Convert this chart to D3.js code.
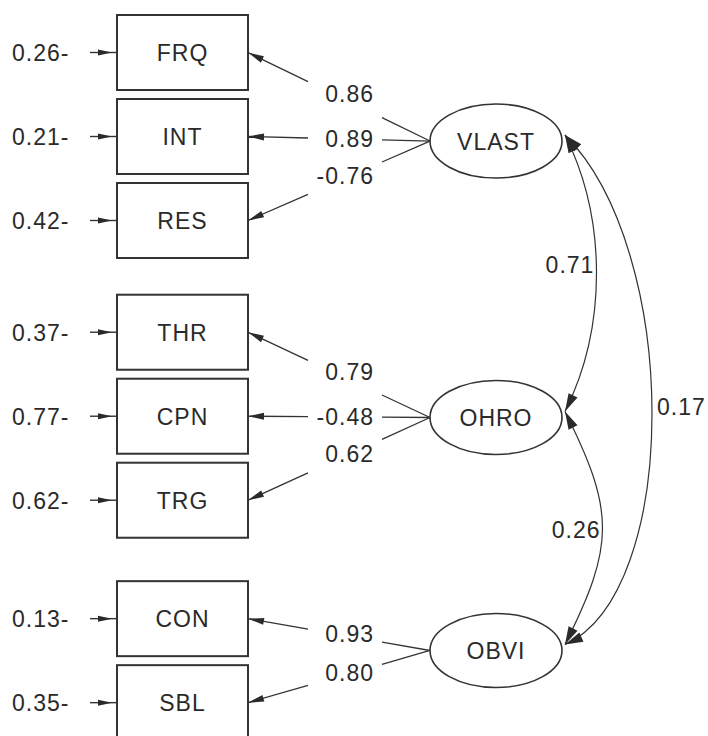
<!DOCTYPE html>
<html><head><meta charset="utf-8">
<script src="https://cdn.jsdelivr.net/npm/d3@7"></script>
<style>body{margin:0;background:#fff} svg{display:block}</style>
</head><body>
<svg id="chart" width="708" height="736"></svg>
<script>
// ---- data ----
const observed   = ["FRQ","INT","RES","THR","CPN","TRG","CON","SBL"];
const residuals  = [0.26,0.21,0.42,0.37,0.77,0.62,0.13,0.35];
const indicatorOf= ["VLAST","VLAST","VLAST","OHRO","OHRO","OHRO","OBVI","OBVI"];
const loadings   = [0.86,0.89,-0.76,0.79,-0.48,0.62,0.93,0.80];
const latents    = ["VLAST","OHRO","OBVI"];
const covFrom    = ["VLAST","OHRO","VLAST"];
const covTo      = ["OHRO","OBVI","OBVI"];
const covValues  = [0.71,0.26,0.17];

// ---- layout ----
const groupGap   = [0,0.33,0.74];
const latentSlot = [1.054,4.345,7.119];
const covBulge   = [84,100,116];
const covEndSlope= [[0.5,0.5],[0.5,0.5],[1.0,0.45]];
const covLabelT  = [0.47,0.51,0.49];
const covLabelSide = ["left","left","right"];

const svg = d3.select("#chart");
const fmt = d3.formatLocale({decimal:".",thousands:",",grouping:[3],currency:["",""],minus:"-"}).format(".2f");
const y = d3.scaleLinear().domain([0,1]).range([52.5,136.5]);
const x = d3.scaleLinear().domain([0,1]).range([0,708]);

const boxX0 = x(117/708), boxW = 131, boxH = 75;
const boxX1 = boxX0 + boxW;
const latCx = 496, latRx = 66, latRy = 37;
const ink = "#2a2a2a", lineC = "#333";
const font = "'Liberation Sans', Arial, Helvetica, sans-serif";

const groupIdx = indicatorOf.map(f => latents.indexOf(f));
const rowY = observed.map((d,i) => y(i + groupGap[groupIdx[i]]));
const latY = latents.map((d,i) => y(latentSlot[i]));

function arrowHead(tip, dx, dy, len, wid){
  const L = Math.hypot(dx,dy); const ux = dx/L, uy = dy/L;
  const bx = tip[0]-ux*len, by = tip[1]-uy*len;
  const px = -uy*wid/2, py = ux*wid/2;
  return `M${tip[0]},${tip[1]}L${bx+px},${by+py}L${bx-px},${by-py}Z`;
}
function txt(sel){ return sel.attr("font-family",font).attr("font-size",23).attr("letter-spacing","1px").attr("fill",ink); }

// ---- boxes ----
const g = svg.append("g");
observed.forEach((name,i)=>{
  const cy = rowY[i];
  g.append("rect").attr("x",boxX0).attr("y",cy-boxH/2).attr("width",boxW).attr("height",boxH)
    .attr("fill","#fff").attr("stroke",lineC).attr("stroke-width",2);
  txt(g.append("text")).attr("x",boxX0+boxW/2).attr("y",cy+8.5).attr("text-anchor","middle").text(name);
  // residual
  txt(g.append("text")).attr("x",12).attr("y",cy+8.5).text(fmt(residuals[i])+"-");
  g.append("line").attr("x1",90).attr("x2",boxX0).attr("y1",cy).attr("y2",cy).attr("stroke",lineC).attr("stroke-width",1.4);
  g.append("path").attr("d",arrowHead([112,cy],1,0,14,6)).attr("fill",ink);
});

// ---- latents ----
latents.forEach((name,i)=>{
  g.append("ellipse").attr("cx",latCx).attr("cy",latY[i]).attr("rx",latRx).attr("ry",latRy)
    .attr("fill","#fff").attr("stroke",lineC).attr("stroke-width",1.6);
  txt(g.append("text")).attr("x",latCx).attr("y",latY[i]+8.5).attr("text-anchor","middle").text(name);
});

// ---- loadings ----
const gapR = 382, gapL = 308, labelRight = 374;
observed.forEach((name,i)=>{
  const E = [latCx-latRx, latY[groupIdx[i]]];
  const B = [boxX1, rowY[i]];
  const yAt = xx => E[1] + (B[1]-E[1])*(E[0]-xx)/(E[0]-B[0]);
  g.append("line").attr("x1",E[0]).attr("y1",E[1]).attr("x2",gapR).attr("y2",yAt(gapR)).attr("stroke",lineC).attr("stroke-width",1.3);
  g.append("line").attr("x1",gapL).attr("y1",yAt(gapL)).attr("x2",B[0]).attr("y2",B[1]).attr("stroke",lineC).attr("stroke-width",1.3);
  g.append("path").attr("d",arrowHead(B,B[0]-gapL,B[1]-yAt(gapL),16,7)).attr("fill",ink);
  const up = (E[1]-B[1]) > 20;
  const ly = yAt(up ? 333 : 350);
  txt(g.append("text")).attr("x",labelRight).attr("y",ly+8).attr("text-anchor","end").text(fmt(loadings[i]));
});

// ---- covariances ----
covValues.forEach((v,k)=>{
  const a = latents.indexOf(covFrom[k]), b = latents.indexOf(covTo[k]);
  const P0 = [latCx+latRx+3, latY[a]-6];
  const P3 = [latCx+latRx+3, latY[b]-6];
  const bulge = covBulge[k], s = covEndSlope[k];
  const C1 = [P0[0]+s[0]*bulge, P0[1]+bulge];
  const C2 = [P3[0]+s[1]*bulge*2*(s[0]/ (s[0]+s[1])) , P3[1]-bulge*(s[1]/s[0] < 1 ? s[1]/0.45*0.45 : 1)];
  // symmetric-in-x control points
  C2[0] = P3[0] + bulge*(k===2 ? 1.0 : s[1]);
  C2[1] = P3[1] - bulge*(k===2 ? 0.45 : 1);
  const p = d3.path();
  p.moveTo(P0[0],P0[1]); p.bezierCurveTo(C1[0],C1[1],C2[0],C2[1],P3[0],P3[1]);
  g.append("path").attr("d",p.toString()).attr("fill","none").attr("stroke",lineC).attr("stroke-width",1.2);
  g.append("path").attr("d",arrowHead(P0,P0[0]-C1[0],P0[1]-C1[1],18,10)).attr("fill",ink);
  g.append("path").attr("d",arrowHead(P3,P3[0]-C2[0],P3[1]-C2[1],18,10)).attr("fill",ink);
  const t = covLabelT[k], mt = 1-t;
  const bx = mt*mt*mt*P0[0]+3*mt*mt*t*C1[0]+3*mt*t*t*C2[0]+t*t*t*P3[0];
  const by = mt*mt*mt*P0[1]+3*mt*mt*t*C1[1]+3*mt*t*t*C2[1]+t*t*t*P3[1];
  const left = covLabelSide[k]==="left";
  txt(g.append("text")).attr("x", left ? bx-2 : bx+5).attr("y",by+8)
    .attr("text-anchor", left ? "end" : "start").text(fmt(v));
});
</script>
</body></html>
